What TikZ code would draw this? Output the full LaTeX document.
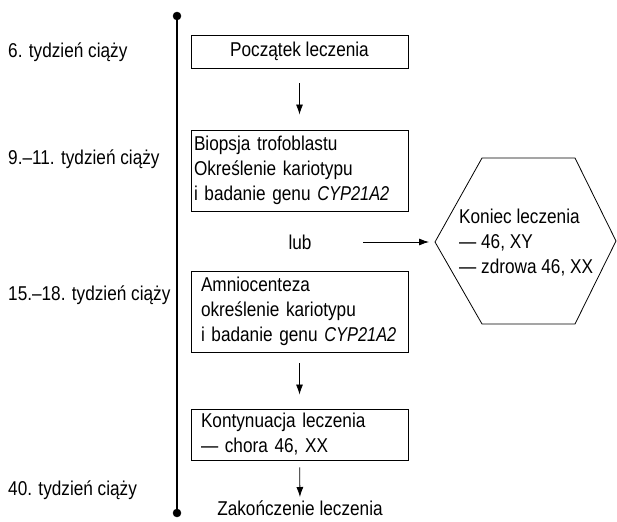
\documentclass[tikz,border=0pt]{standalone}
\usepackage{fontspec}
\setmainfont{Liberation Sans}[FakeStretch=0.86]
\newfontface\genefont{Liberation Sans Italic}[FakeStretch=0.82]
\newcommand{\gene}[1]{{\genefont #1}}
\usetikzlibrary{arrows.meta}

\tikzset{
    every node/.style={font=\fontsize{20}{25}\selectfont},
    stagebox/.style={draw, line width=0.9pt, minimum width=217pt, inner xsep=10pt},
    stepbox/.style={stagebox, text width=197pt, align=left, minimum height=81pt},
    week/.style={anchor=west, inner sep=0pt},
    arrow/.style={-{Latex[length=10pt,width=7pt]}, line width=0.8pt}
}

\begin{document}
\begin{tikzpicture}[x=1pt, y=-1pt]
    \useasboundingbox (0,0) rectangle (617,521);

    % Time axis
    \coordinate (axistop) at (177,16);
    \coordinate (axisbottom) at (177,513);
    \draw[line width=2.6pt] (axistop) -- (axisbottom);
    \filldraw (axistop) circle (4pt);
    \filldraw (axisbottom) circle (4pt);

    % Weeks of pregnancy
    \node[week] (w6) at (8,52) {6. tydzień ciąży};
    \node[week] (w9) at (8,159) {9.--11. tydzień ciąży};
    \node[week] (w15) at (8,295) {15.--18. tydzień ciąży};
    \node[week] (w40) at (8,490) {40. tydzień ciąży};

    % Stages
    \node[stagebox, minimum height=33pt] (start) at (299.5,51.5) {Początek leczenia};
    \node[stepbox, text width=211pt, inner xsep=3pt] (biopsy) at (299.5,170.5)
        {Biopsja trofoblastu\\Określenie kariotypu\\i badanie genu \gene{CYP21A2}};
    \node (lub) at (300,242) {lub};
    \node[stepbox] (amnio) at (299.5,311.5)
        {Amniocenteza\\określenie kariotypu\\i badanie genu \gene{CYP21A2}};
    \node[stepbox, minimum height=51pt] (cont) at (299.5,434.5)
        {Kontynuacja leczenia\\— chora 46, XX};
    \node (end) at (300,508) {Zakończenie leczenia};

    % End of treatment (hexagon)
    \coordinate (hexL) at (435,242);
    \draw[line width=0.8pt] (hexL) -- (482,158) -- (575,158) -- (616,241)
        -- (575,324) -- (482,324) -- cycle;
    \node[anchor=west, align=left, inner sep=0pt] (stop) at (459,243)
        {Koniec leczenia\\— 46, XY\\— zdrowa 46, XX};

    % Arrows
    \draw[arrow, shorten <=15pt, shorten >=15pt] (start) -- (biopsy);
    \draw[arrow, shorten <=48pt, shorten >=6pt] (lub) -- (hexL);
    \draw[arrow, shorten <=11pt, shorten >=14pt] (amnio) -- (cont);
    \draw[arrow, shorten <=7pt, shorten >=0pt] (cont) -- (end);
\end{tikzpicture}
\end{document}
